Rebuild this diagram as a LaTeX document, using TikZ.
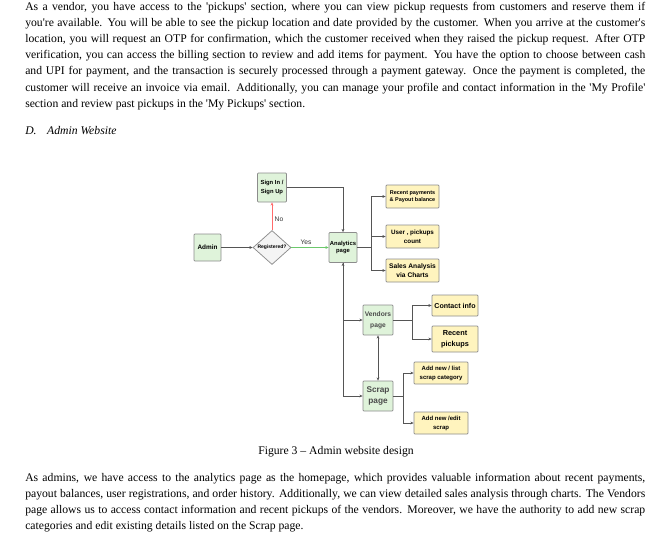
\documentclass[tikz,border=0pt]{standalone}
\usepackage{fontspec}
\setmainfont{Liberation Serif}
\newfontfamily\diagfont{Liberation Sans}
\usetikzlibrary{shapes.geometric,arrows.meta}
\definecolor{boxgreen}{HTML}{DFF3DA}
\definecolor{boxyellow}{HTML}{FFF4BE}
\definecolor{diamondfill}{HTML}{F4F4F4}
\definecolor{edgegray}{HTML}{8C8C8C}
\definecolor{linegray}{HTML}{555555}
\definecolor{textgray}{HTML}{4A4A4A}
\definecolor{nored}{HTML}{FF6B6B}
\definecolor{yesgreen}{HTML}{6CC86C}
\newcommand{\jl}[1]{\makebox[465pt][s]{#1}}
\newcommand{\sq}{\textquotesingle}
\newcommand{\dfs}[2]{\diagfont\bfseries\fontsize{#1}{#2}\selectfont}
\begin{document}
\begin{tikzpicture}[x=0.75pt,y=-0.75pt,
  body/.style={inner sep=0, font=\fontsize{8.76}{12}\selectfont, anchor=base west},
  gbox/.style={draw=edgegray, fill=boxgreen, line width=0.55pt, inner sep=0, align=center, rounded corners=0.6pt},
  ybox/.style={draw=edgegray, fill=boxyellow, line width=0.55pt, inner sep=0, align=center, rounded corners=0.6pt},
  conn/.style={draw=linegray, line width=0.55pt, -{Stealth[length=2.4pt,width=2.1pt]}},
  connboth/.style={draw=linegray, line width=0.55pt, {Stealth[length=2.4pt,width=2.1pt]}-{Stealth[length=2.4pt,width=2.1pt]}},
  lbl/.style={inner sep=0, font=\diagfont\fontsize{5}{6}\selectfont, text=black!80}
]
\fill[white] (0,0) rectangle (659,539);
\useasboundingbox (0,0) rectangle (659,539);

% top paragraph
\node[body] (t1) at (25,10.5) {\jl{As a vendor, you have access to the \sq pickups\sq{} section, where you can view pickup requests from customers and reserve them if}};
\node[body] (t2) at (25,26.6) {\jl{you\sq re available. You will be able to see the pickup location and date provided by the customer. When you arrive at the customer\sq s}};
\node[body] (t3) at (25,42.7) {\jl{location, you will request an OTP for confirmation, which the customer received when they raised the pickup request. After OTP}};
\node[body] (t4) at (25,58.8) {\jl{verification, you can access the billing section to review and add items for payment. You have the option to choose between cash}};
\node[body] (t5) at (25,74.9) {\jl{and UPI for payment, and the transaction is securely processed through a payment gateway. Once the payment is completed, the}};
\node[body] (t6) at (25,91.0) {\jl{customer will receive an invoice via email. Additionally, you can manage your profile and contact information in the \sq My Profile\sq}};
\node[body] (t7) at (25,107.1) {section and review past pickups in the \sq My Pickups\sq{} section.};

\node[body] (head) at (25,134.5) {\itshape D.\hspace{7.9pt}Admin Website};

% diagram
\node[gbox, minimum width=21.75pt, minimum height=21.75pt, font=\dfs{4.4}{6.75}] (signin) at (272,187.5) {Sign In /\\Sign Up};
\node[gbox, minimum width=20.25pt, minimum height=20.25pt, font=\dfs{4.8}{6}] (admin) at (207.5,247.5) {Admin};
\node[diamond, draw=edgegray, fill=diamondfill, line width=0.55pt, inner sep=0, minimum width=28.5pt, minimum height=25.5pt, font=\dfs{3.75}{4.5}] (reg) at (272,247.5) {Registered?};
\node[gbox, minimum width=21pt, minimum height=22.5pt, font=\dfs{4.4}{5.25}] (analytics) at (343,247.5) {Analytics\\page};

\node[ybox, minimum width=39.75pt, minimum height=17.25pt, font=\dfs{4.1}{5.25}] (rp) at (412.5,196.5) {Recent payments\\\& Payout balance};
\node[ybox, minimum width=39.75pt, minimum height=17.25pt, font=\dfs{4.7}{6.75}] (user) at (412.5,236.5) {User , pickups\\count};
\node[ybox, minimum width=39.75pt, minimum height=17.25pt, font=\dfs{5}{6.75}] (sales) at (412.5,270.5) {Sales Analysis\\via Charts};

\node[gbox, minimum width=22.5pt, minimum height=22.5pt, font=\dfs{5}{8.25}, text=textgray] (vendors) at (378,320) {Vendors\\page};
\node[gbox, minimum width=22.5pt, minimum height=22.5pt, font=\dfs{6.2}{8.25}, text=textgray] (scrap) at (378,396) {Scrap\\page};

\node[ybox, minimum width=34.5pt, minimum height=15.75pt, font=\dfs{5.3}{6}] (contact) at (455,305.5) {Contact info};
\node[ybox, minimum width=34.5pt, minimum height=19.5pt, font=\dfs{5.5}{8.25}] (rpick) at (455,339) {Recent\\pickups};
\node[ybox, minimum width=40.5pt, minimum height=16.5pt, font=\dfs{4.5}{6.75}] (addlist) at (441,373) {Add new / list\\scrap category};
\node[ybox, minimum width=40.5pt, minimum height=16.5pt, font=\dfs{4.5}{6.75}] (addedit) at (441,423) {Add new /edit\\scrap};

\node[lbl] (no) at (279,219) {No};
\node[lbl] (yes) at (306,242) {Yes};

\draw[conn] (admin.east) -- (reg.west);
\draw[conn, draw=nored] (reg.north) -- (signin.south);
\draw[conn, draw=yesgreen] (reg.east) -- (analytics.west);
\draw[conn] (signin.east) -| (analytics.north);
\draw[conn] (analytics.east) -- ++(14,0) |- (rp.west);
\draw[conn] (analytics.east) -- ++(14,0) |- (user.west);
\draw[conn] (analytics.east) -- ++(14,0) |- (sales.west);
\draw[connboth] (analytics.south) |- (vendors.west);
\draw[conn] (analytics.south) |- (scrap.west);
\draw[connboth] (vendors.south) -- (scrap.north);
\draw[conn] (vendors.east) -- ++(19,0) |- (contact.west);
\draw[conn] (vendors.east) -- ++(19,0) |- (rpick.west);
\draw[conn] (scrap.east) -- ++(10,0) |- (addlist.west);
\draw[conn] (scrap.east) -- ++(10,0) |- (addedit.west);

\node[body, anchor=base] (cap) at (336,454.5) {Figure 3 -- Admin website design};

% bottom paragraph
\node[body] (b1) at (25,481.5) {\jl{As admins, we have access to the analytics page as the homepage, which provides valuable information about recent payments,}};
\node[body] (b2) at (25,497.6) {\jl{payout balances, user registrations, and order history. Additionally, we can view detailed sales analysis through charts. The Vendors}};
\node[body] (b3) at (25,513.7) {\jl{page allows us to access contact information and recent pickups of the vendors. Moreover, we have the authority to add new scrap}};
\node[body] (b4) at (25,529.8) {categories and edit existing details listed on the Scrap page.};
\end{tikzpicture}
\end{document}
